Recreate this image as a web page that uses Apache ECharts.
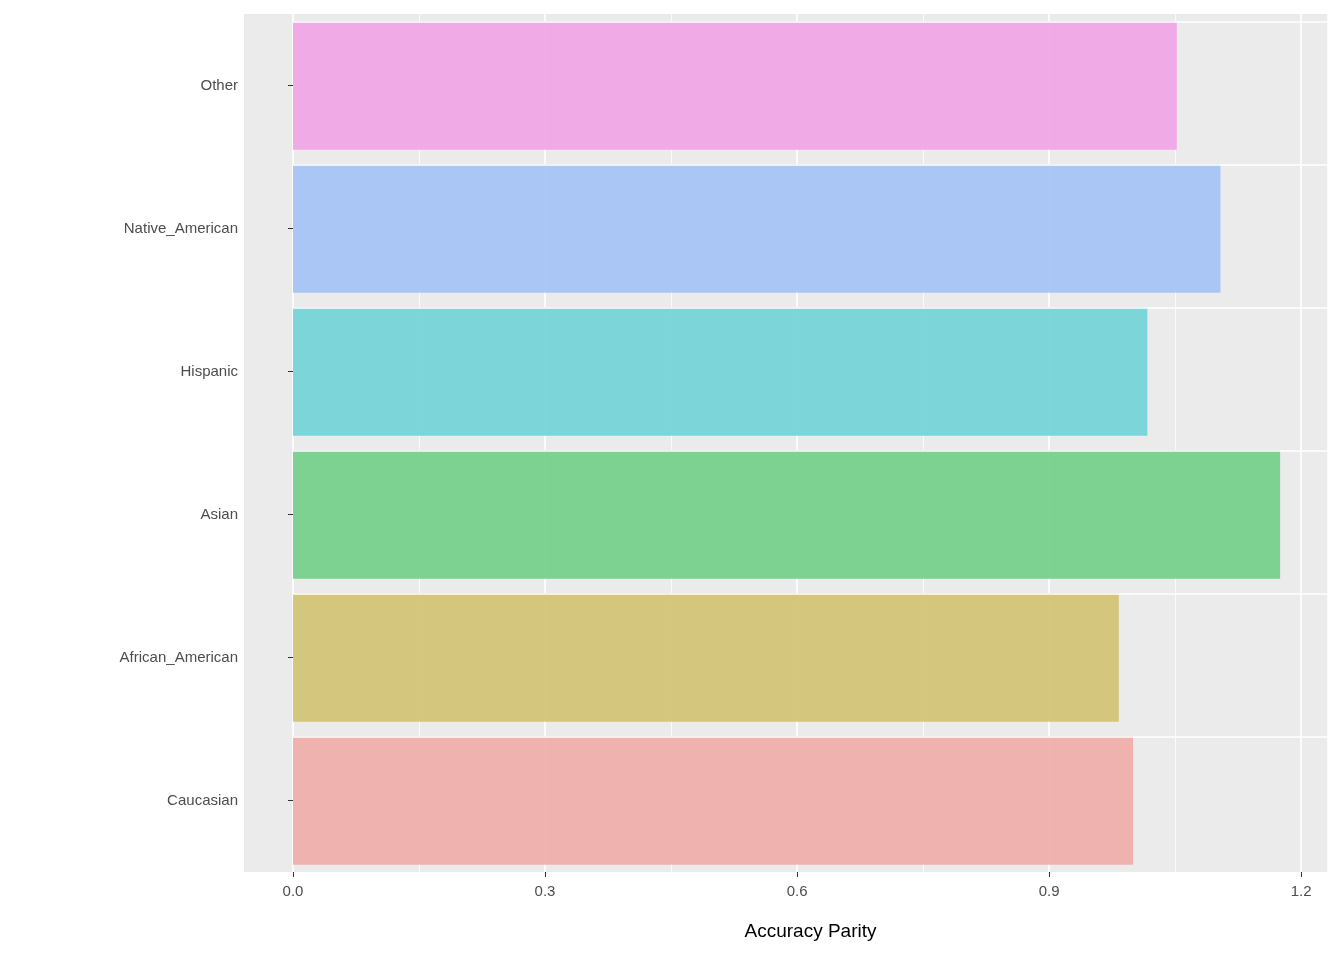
<!DOCTYPE html>
<html>
<head>
<meta charset="utf-8">
<script src="https://cdn.jsdelivr.net/npm/echarts@6/dist/echarts.min.js"></script>
<style>body{margin:0}#c{width:1344px;height:960px}</style>
</head>
<body>
<div id="c"></div>
<script>
const groups = ["Caucasian", "African_American", "Asian", "Hispanic", "Native_American", "Other"];
const parity = [1.0, 0.983, 1.175, 1.017, 1.104, 1.052];
const colors = ["#F0AFAB", "#D3C476", "#77D08C", "#76D5D8", "#A6C4F4", "#F0A6E6"];

const chart = echarts.init(document.getElementById("c"));
chart.setOption({
  animation: false,
  graphic: [{ type: "rect", z: -10, shape: { x: 244, y: 14, width: 1084, height: 858 }, style: { fill: "#EBEBEB" } }],
  grid: { left: 293, right: 16, top: 14, bottom: 88 },
  xAxis: {
    type: "value", min: 0, max: 1.232, interval: 0.3,
    name: "Accuracy Parity", nameLocation: "middle", nameGap: 50,
    nameTextStyle: { fontSize: 19, color: "#000", fontFamily: "Liberation Sans" },
    axisLine: { show: false },
    axisTick: { show: true, length: 5, lineStyle: { color: "#333" } },
    axisLabel: { fontSize: 15, color: "#4D4D4D", margin: 12, fontFamily: "Liberation Sans",
      showMaxLabel: false, formatter: v => v.toFixed(1) },
    splitLine: { lineStyle: { color: "#fff", width: 1.6 } },
    minorTick: { show: false, splitNumber: 2 },
    minorSplitLine: { show: true, lineStyle: { color: "#fff", width: 0.8 } }
  },
  yAxis: {
    type: "category", data: groups, offset: 49,
    axisLine: { show: false },
    axisTick: { show: true, alignWithLabel: true, length: 5, lineStyle: { color: "#333" } },
    axisLabel: { fontSize: 15, color: "#4D4D4D", margin: 6, fontFamily: "Liberation Sans" },
    splitLine: { show: false }
  },
  series: [
    {
      type: "bar", z: 1, data: [], silent: true,
      markLine: { symbol: "none", silent: true, label: { show: false },
        lineStyle: { color: "#fff", width: 1.6, type: "solid" },
        data: groups.map(g => ({ yAxis: g })) }
    },
    {
      type: "bar", z: 3, barWidth: "90%", barGap: "-100%",
      data: parity.map((v, i) => ({ value: v, itemStyle: { color: colors[i], opacity: 0.95 } }))
    }
  ]
});
</script>
</body>
</html>
